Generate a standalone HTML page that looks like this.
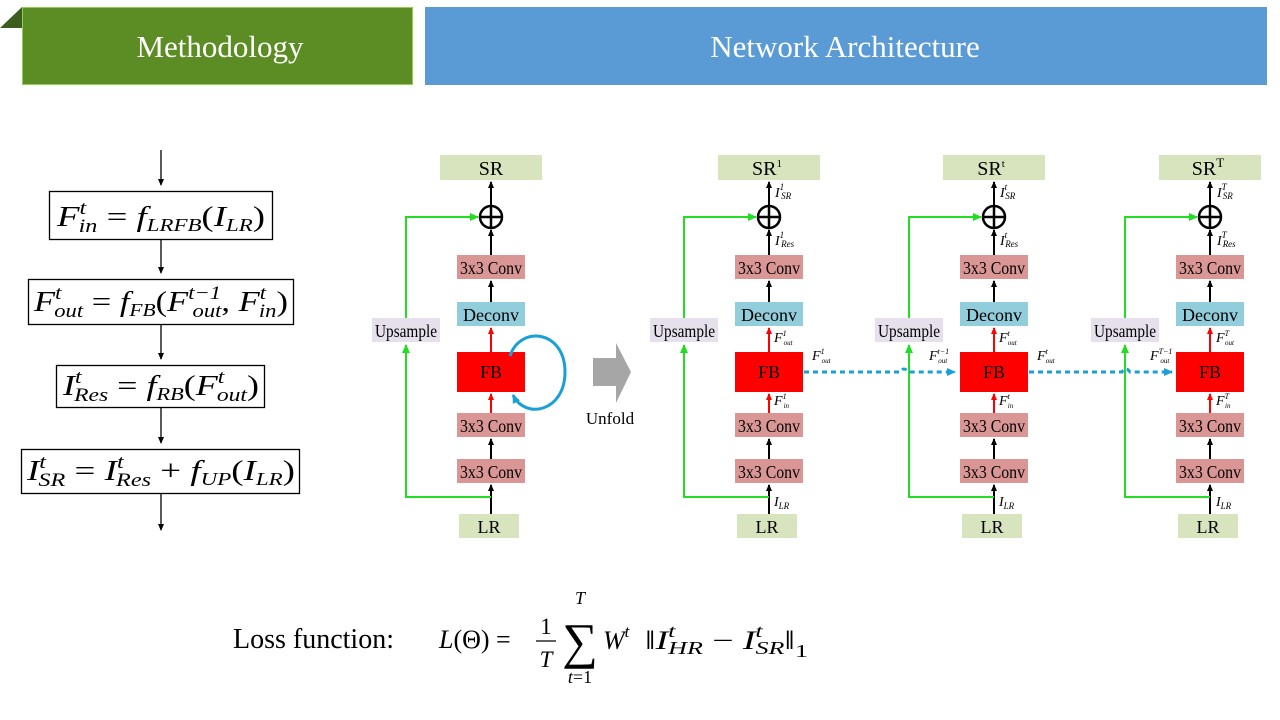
<!DOCTYPE html>
<html><head><meta charset="utf-8"><style>
body{margin:0;width:1280px;height:720px;background:#fff;overflow:hidden;font-family:"Liberation Serif",serif}
svg{position:absolute;left:0;top:0}
</style></head><body>
<svg width="1280" height="720" viewBox="0 0 1280 720" font-family="Liberation Serif, serif">
<defs>
<marker id="ak" markerWidth="8" markerHeight="8" refX="6" refY="4" orient="auto" markerUnits="userSpaceOnUse"><path d="M0,1 L7,4 L0,7 Z" fill="#000"/></marker>
<marker id="ar" markerWidth="8" markerHeight="8" refX="6" refY="4" orient="auto" markerUnits="userSpaceOnUse"><path d="M0,1 L7,4 L0,7 Z" fill="#f00"/></marker>
<marker id="ag" markerWidth="10" markerHeight="10" refX="8" refY="5" orient="auto" markerUnits="userSpaceOnUse"><path d="M0,1 L9,5 L0,9 Z" fill="#22dd22"/></marker>
<marker id="ab" markerWidth="10" markerHeight="10" refX="8" refY="5" orient="auto" markerUnits="userSpaceOnUse"><path d="M0,1 L9,5 L0,9 Z" fill="#1a9fd6"/></marker>
<g id="col">
 <rect x="-17" y="155" width="102" height="25" fill="#d7e4bd"/>
 <line x1="34" y1="206" x2="34" y2="182" stroke="#000" stroke-width="2" marker-end="url(#ak)"/>
 <circle cx="34" cy="217" r="11" fill="none" stroke="#000" stroke-width="2.5"/>
 <line x1="23" y1="217" x2="45" y2="217" stroke="#000" stroke-width="2.5"/>
 <line x1="34" y1="206" x2="34" y2="228" stroke="#000" stroke-width="2.5"/>
 <line x1="34" y1="255" x2="34" y2="230" stroke="#000" stroke-width="2" marker-end="url(#ak)"/>
 <rect x="0" y="255" width="68" height="24" fill="#d99694"/>
 <line x1="34" y1="302" x2="34" y2="281" stroke="#000" stroke-width="2" marker-end="url(#ak)"/>
 <rect x="0" y="302" width="68" height="24" fill="#92cddc"/>
 <line x1="34" y1="352" x2="34" y2="328" stroke="#f00" stroke-width="2" marker-end="url(#ar)"/>
 <rect x="0" y="352" width="68" height="40" fill="#ff0000"/>
 <line x1="34" y1="413" x2="34" y2="394" stroke="#f00" stroke-width="2" marker-end="url(#ar)"/>
 <rect x="0" y="413" width="68" height="24" fill="#d99694"/>
 <line x1="34" y1="459" x2="34" y2="439" stroke="#000" stroke-width="2" marker-end="url(#ak)"/>
 <rect x="0" y="459" width="68" height="24" fill="#d99694"/>
 <line x1="34" y1="514" x2="34" y2="485" stroke="#000" stroke-width="2" marker-end="url(#ak)"/>
 <rect x="2" y="514" width="60" height="24" fill="#d7e4bd"/>
 <polyline points="34,497 -51,497 -51,345" fill="none" stroke="#22dd22" stroke-width="2" marker-end="url(#ag)"/>
 <polyline points="-51,318 -51,217 21,217" fill="none" stroke="#22dd22" stroke-width="2" marker-end="url(#ag)"/>
 <rect x="-85" y="318" width="68" height="24" fill="#e6e0ec"/>
 <g font-size="18" text-anchor="middle" fill="#000">
  <text x="34" y="274" textLength="62" lengthAdjust="spacingAndGlyphs">3x3 Conv</text>
  <text x="34" y="321">Deconv</text>
  <text x="34" y="378">FB</text>
  <text x="34" y="432" textLength="62" lengthAdjust="spacingAndGlyphs">3x3 Conv</text>
  <text x="34" y="478" textLength="62" lengthAdjust="spacingAndGlyphs">3x3 Conv</text>
  <text x="32" y="533">LR</text>
  <text x="-51" y="337" textLength="62" lengthAdjust="spacingAndGlyphs">Upsample</text>
 </g>
</g>
</defs>

<!-- headers -->
<polygon points="0,28 22,7 22,28" fill="#3c5d20"/>
<rect x="22.5" y="7.5" width="390" height="77" fill="#5b8d24" stroke="#8fcf50" stroke-width="1"/>
<text x="220" y="57" font-size="31" fill="#fff" text-anchor="middle">Methodology</text>
<rect x="425" y="7" width="842" height="78" fill="#5b9bd5"/>
<text x="845" y="57" font-size="31" fill="#fff" text-anchor="middle">Network Architecture</text>

<!-- left flow -->
<g stroke="#000" stroke-width="1.3">
<line x1="161" y1="150" x2="161" y2="185" marker-end="url(#ak)"/>
<line x1="161" y1="239" x2="161" y2="273" marker-end="url(#ak)"/>
<line x1="161" y1="324" x2="161" y2="359" marker-end="url(#ak)"/>
<line x1="161" y1="407" x2="161" y2="443" marker-end="url(#ak)"/>
<line x1="161" y1="493" x2="161" y2="530" marker-end="url(#ak)"/>
<rect x="49.5" y="191.5" width="223" height="48" fill="none"/>
<rect x="28.5" y="279.5" width="265" height="45" fill="none"/>
<rect x="56.5" y="365.5" width="208" height="42" fill="none"/>
<rect x="21.5" y="449.5" width="278" height="44" fill="none"/>
</g>
<g font-size="29" font-style="italic" text-anchor="middle">
<text x="161" y="226" textLength="208" lengthAdjust="spacingAndGlyphs">F<tspan font-size="19" dy="-12">t</tspan><tspan font-size="19" dx="-6" dy="18">in</tspan><tspan dy="-6" font-style="normal"> = </tspan>f<tspan font-size="18" dy="5">LRFB</tspan><tspan dy="-5" font-style="normal">(</tspan>I<tspan font-size="18" dy="5">LR</tspan><tspan dy="-5" font-style="normal">)</tspan></text>
<text x="161" y="311" textLength="254" lengthAdjust="spacingAndGlyphs">F<tspan font-size="19" dy="-12">t</tspan><tspan font-size="19" dx="-6" dy="18">out</tspan><tspan dy="-6" font-style="normal"> = </tspan>f<tspan font-size="18" dy="5">FB</tspan><tspan dy="-5" font-style="normal">(</tspan>F<tspan font-size="19" dy="-12">t−1</tspan><tspan font-size="19" dx="-24" dy="18">out</tspan><tspan dy="-6" font-style="normal">, </tspan>F<tspan font-size="19" dy="-12">t</tspan><tspan font-size="19" dx="-6" dy="18">in</tspan><tspan dy="-6" font-style="normal">)</tspan></text>
<text x="161" y="395" textLength="196" lengthAdjust="spacingAndGlyphs">I<tspan font-size="19" dy="-12">t</tspan><tspan font-size="19" dx="-6" dy="18">Res</tspan><tspan dy="-6" font-style="normal"> = </tspan>f<tspan font-size="18" dy="5">RB</tspan><tspan dy="-5" font-style="normal">(</tspan>F<tspan font-size="19" dy="-12">t</tspan><tspan font-size="19" dx="-6" dy="18">out</tspan><tspan dy="-6" font-style="normal">)</tspan></text>
<text x="161" y="480" textLength="268" lengthAdjust="spacingAndGlyphs">I<tspan font-size="19" dy="-12">t</tspan><tspan font-size="19" dx="-6" dy="18">SR</tspan><tspan dy="-6" font-style="normal"> = </tspan>I<tspan font-size="19" dy="-12">t</tspan><tspan font-size="19" dx="-6" dy="18">Res</tspan><tspan dy="-6" font-style="normal"> + </tspan>f<tspan font-size="18" dy="5">UP</tspan><tspan dy="-5" font-style="normal">(</tspan>I<tspan font-size="18" dy="5">LR</tspan><tspan dy="-5" font-style="normal">)</tspan></text>
</g>

<!-- columns -->
<use href="#col" x="457"/>
<use href="#col" x="735"/>
<use href="#col" x="960"/>
<use href="#col" x="1176"/>

<!-- col0 loop -->
<path d="M510,356 C520,325 565,330 565,372 C565,412 525,420 513,395" fill="none" stroke="#1a9fd6" stroke-width="3" marker-end="url(#ab)"/>
<g font-size="20" text-anchor="middle">
<text x="491" y="175">SR</text>
<text x="767" y="175">SR<tspan font-size="11" dy="-8">1</tspan></text>
<text x="991" y="175">SR<tspan font-size="11" dy="-8">t</tspan></text>
<text x="1208" y="175">SR<tspan font-size="13" dy="-8">T</tspan></text>
</g>

<!-- unfold -->
<polygon points="593,358 616,358 616,343 631,372 616,403 616,386 593,386" fill="#a6a6a6"/>
<text x="610" y="424" font-size="17" text-anchor="middle">Unfold</text>

<!-- dashed -->
<g stroke="#1a9fd6" stroke-width="3" stroke-dasharray="5,4" fill="none">
<path d="M804,372 L900,372 Q904,366 908,372 L955,372" marker-end="url(#ab)"/>
<path d="M1029,372 L1122,372 Q1126,366 1130,372 L1172,372" marker-end="url(#ab)"/>
</g>

<!-- small labels -->
<g font-size="14" font-style="italic" fill="#000">
<text x="775" y="197">I<tspan font-size="9" dy="-7">1</tspan><tspan font-size="9" dx="-3" dy="9">SR</tspan></text>
<text x="775" y="245">I<tspan font-size="9" dy="-7">1</tspan><tspan font-size="9" dx="-3" dy="9">Res</tspan></text>
<text x="774" y="342">F<tspan font-size="8" dy="-6">1</tspan><tspan font-size="7" dx="-3" dy="9">out</tspan></text>
<text x="774" y="405">F<tspan font-size="8" dy="-6">1</tspan><tspan font-size="7" dx="-3" dy="9">in</tspan></text>
<text x="774" y="506">I<tspan font-size="9" dy="3">LR</tspan></text>
<text x="812" y="360">F<tspan font-size="8" dy="-6">1</tspan><tspan font-size="7" dx="-3" dy="9">out</tspan></text>

<text x="1000" y="197">I<tspan font-size="9" dy="-7">t</tspan><tspan font-size="9" dx="-2" dy="9">SR</tspan></text>
<text x="1000" y="245">I<tspan font-size="9" dy="-7">t</tspan><tspan font-size="9" dx="-2" dy="9">Res</tspan></text>
<text x="999" y="342">F<tspan font-size="8" dy="-6">t</tspan><tspan font-size="7" dx="-2" dy="9">out</tspan></text>
<text x="999" y="405">F<tspan font-size="8" dy="-6">t</tspan><tspan font-size="7" dx="-2" dy="9">in</tspan></text>
<text x="999" y="506">I<tspan font-size="9" dy="3">LR</tspan></text>
<text x="929" y="360">F<tspan font-size="8" dy="-6">t−1</tspan><tspan font-size="7" dx="-11" dy="9">out</tspan></text>
<text x="1037" y="360">F<tspan font-size="8" dy="-6">t</tspan><tspan font-size="7" dx="-2" dy="9">out</tspan></text>

<text x="1217" y="197">I<tspan font-size="9" dy="-7">T</tspan><tspan font-size="9" dx="-4" dy="9">SR</tspan></text>
<text x="1217" y="245">I<tspan font-size="9" dy="-7">T</tspan><tspan font-size="9" dx="-4" dy="9">Res</tspan></text>
<text x="1216" y="342">F<tspan font-size="8" dy="-6">T</tspan><tspan font-size="7" dx="-4" dy="9">out</tspan></text>
<text x="1216" y="405">F<tspan font-size="8" dy="-6">T</tspan><tspan font-size="7" dx="-4" dy="9">in</tspan></text>
<text x="1216" y="506">I<tspan font-size="9" dy="3">LR</tspan></text>
<text x="1150" y="360">F<tspan font-size="8" dy="-6">T−1</tspan><tspan font-size="7" dx="-12" dy="9">out</tspan></text>
</g>

<!-- loss -->
<text x="233" y="648" font-size="28">Loss function:</text>
<g font-size="26">
<text x="439" y="648"><tspan font-style="italic">L</tspan>(Θ) =</text>
<text x="546" y="634" font-size="23" text-anchor="middle">1</text>
<line x1="536" y1="641" x2="556" y2="641" stroke="#000" stroke-width="1.2"/>
<text x="546" y="667" font-size="23" font-style="italic" text-anchor="middle">T</text>
<text x="580" y="604" font-size="18" font-style="italic" text-anchor="middle">T</text>
<text x="580" y="658" font-size="50" text-anchor="middle">∑</text>
<text x="580" y="683" font-size="18" text-anchor="middle"><tspan font-style="italic">t</tspan>=1</text>
<text x="603" y="649" font-style="italic">W<tspan font-size="17" dy="-12">t</tspan></text>
<text x="645" y="649" textLength="163" lengthAdjust="spacingAndGlyphs">‖<tspan font-style="italic">I</tspan><tspan font-size="18" font-style="italic" dy="-12">t</tspan><tspan font-size="18" font-style="italic" dx="-5" dy="17">HR</tspan><tspan dy="-5"> − </tspan><tspan font-style="italic">I</tspan><tspan font-size="18" font-style="italic" dy="-12">t</tspan><tspan font-size="18" font-style="italic" dx="-5" dy="17">SR</tspan><tspan dy="-5">‖</tspan><tspan font-size="18" dy="8">1</tspan></text>
</g>
</svg>
</body></html>
